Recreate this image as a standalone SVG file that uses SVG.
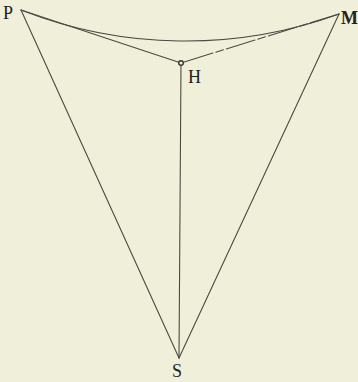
<svg xmlns="http://www.w3.org/2000/svg" width="358" height="382" viewBox="0 0 358 382">
<style>
.ln{stroke:#4a4a44;stroke-width:1.1;fill:none;stroke-linecap:round}
.lb{font-family:"Liberation Serif","Times New Roman",serif;font-size:18px;fill:#222}
</style>
<rect width="358" height="382" fill="#f0f0da"/>
<g id="connectors">
<path class="ln" d="M21,10 A450,450 0 0 0 339,14"/>
<line class="ln" x1="21" y1="10" x2="181" y2="63"/>
<line class="ln" x1="339" y1="14" x2="181" y2="63" stroke-dasharray="30 3 8 3"/>
<line class="ln" x1="21" y1="10" x2="179" y2="358"/>
<line class="ln" x1="339" y1="14" x2="179" y2="358"/>
<line class="ln" x1="181" y1="63" x2="179" y2="358"/>
</g>
<g id="P"><text class="lb" x="3" y="19">P</text></g>
<g id="M"><text class="lb" x="341" y="24" font-weight="bold">M</text></g>
<g id="H"><circle cx="181" cy="63" r="2.3" fill="#f0f0da" stroke="#333" stroke-width="1.4"/><text class="lb" x="188" y="83">H</text></g>
<g id="S"><text class="lb" x="172" y="377">S</text></g>
</svg>
